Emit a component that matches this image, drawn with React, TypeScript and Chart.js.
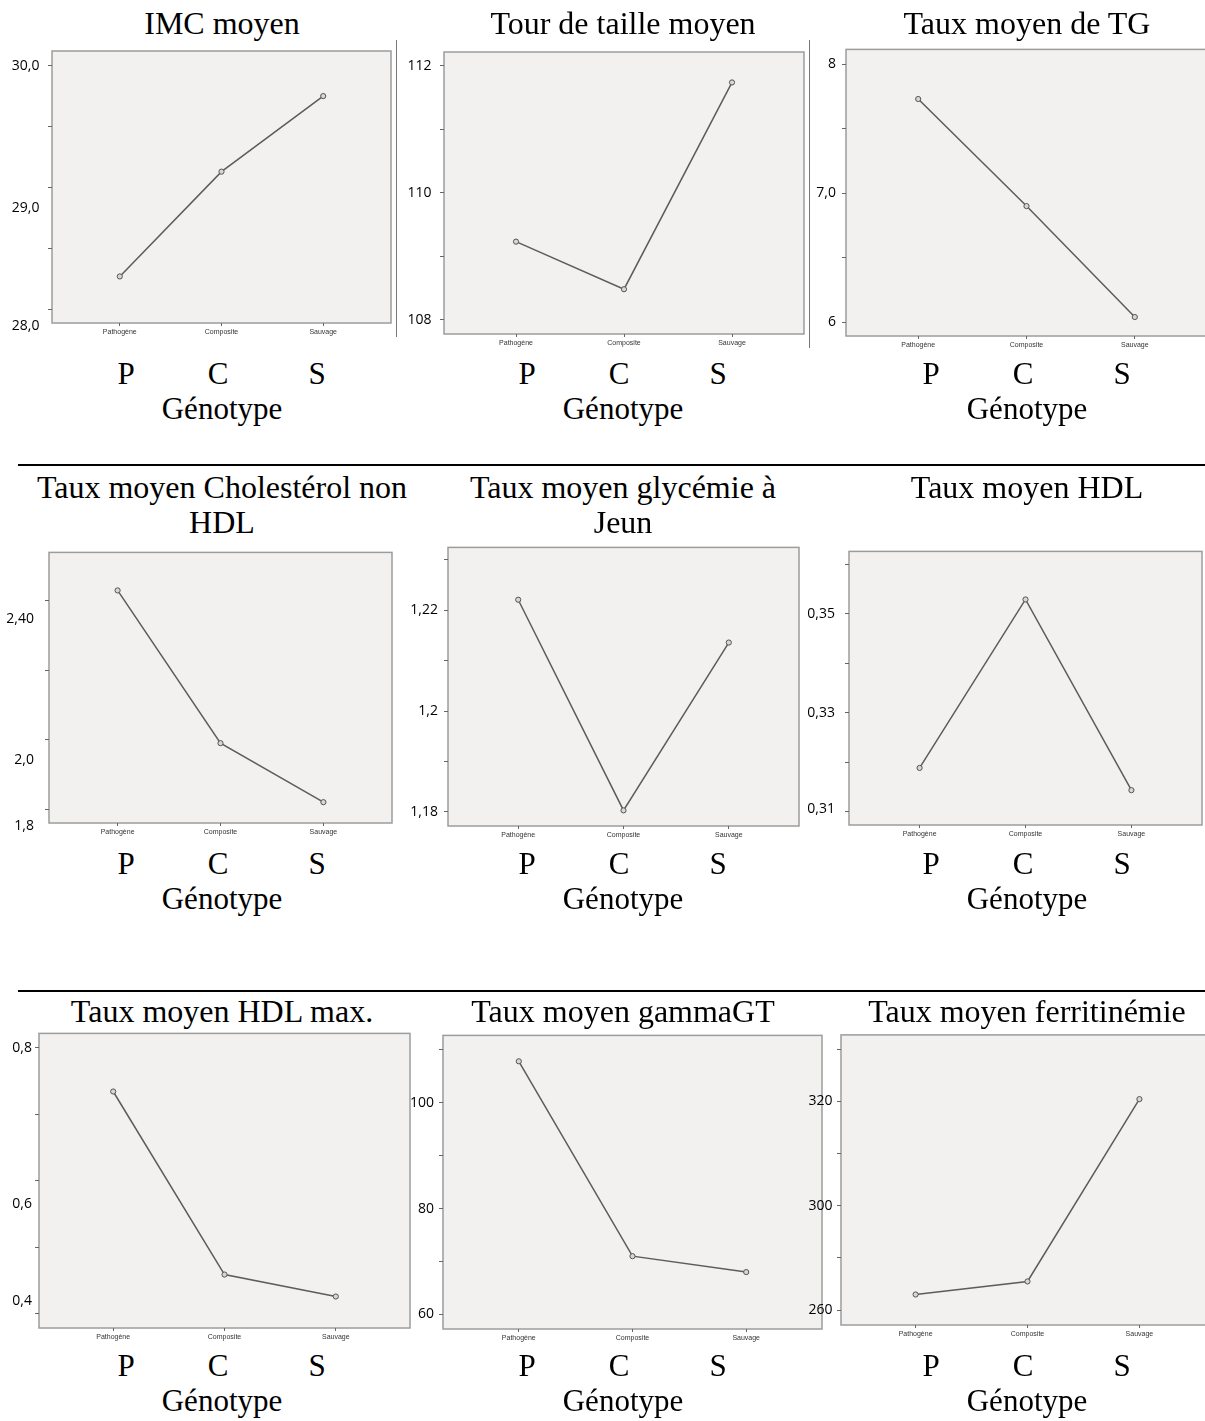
import React, { useEffect, useRef } from "react";
import { Chart, registerables } from "chart.js";

Chart.register(...registerables);

// ---------- data ----------
const categories = ["Pathogène", "Composite", "Sauvage"];
const categoryLetters = ["P", "C", "S"];
const axisTitle = "Génotype";

const titles: string[][] = [
  ["IMC moyen"],
  ["Tour de taille moyen"],
  ["Taux moyen de TG"],
  ["Taux moyen Cholestérol non", "HDL"],
  ["Taux moyen glycémie à", "Jeun"],
  ["Taux moyen HDL"],
  ["Taux moyen HDL max."],
  ["Taux moyen gammaGT"],
  ["Taux moyen ferritinémie"],
];

// means per genotype (P, C, S)
const imcValues = [28.27, 29.13, 29.75];
const tourTailleValues = [109.23, 108.48, 111.74];
const tgValues = [7.73, 6.9, 6.04];
const cholNonHdlValues = [2.43, 1.99, 1.82];
const glycemieValues = [1.2221, 1.1803, 1.2136];
const hdlValues = [0.3188, 0.3529, 0.3143];
const hdlMaxValues = [0.734, 0.459, 0.426];
const gammaGtValues = [107.8, 71.0, 68.0];
const ferritinValues = [283.0, 285.5, 320.4];

// tick marks of each y axis
const imcTicks = [28, 28.5, 29, 29.5, 30];
const tourTailleTicks = [108, 109, 110, 111, 112];
const tgTicks = [6, 6.5, 7, 7.5, 8];
const cholNonHdlTicks = [1.8, 2.0, 2.2, 2.4];
const glycemieTicks = [1.18, 1.19, 1.2, 1.21, 1.22, 1.23];
const hdlTicks = [0.31, 0.32, 0.33, 0.34, 0.35, 0.36];
const hdlMaxTicks = [0.4, 0.5, 0.6, 0.7, 0.8];
const gammaGtTicks = [60, 70, 80, 90, 100, 110];
const ferritinTicks = [280, 290, 300, 310, 320, 330];

// tick labels as printed, and the axis value where each one is printed
const imcLabels = ["30,0", "29,0", "28,0"];
const imcLabelAt = [30, 28.83, 27.86];
const tourTailleLabels = ["112", "110", "108"];
const tourTailleLabelAt = [112, 110, 108];
const tgLabels = ["8", "7,0", "6"];
const tgLabelAt = [8, 7.0, 6];
const cholNonHdlLabels = ["2,40", "2,0", "1,8"];
const cholNonHdlLabelAt = [2.347, 1.94, 1.751];
const glycemieLabels = ["1,22", "1,2", "1,18"];
const glycemieLabelAt = [1.22, 1.2, 1.18];
const hdlLabels = ["0,35", "0,33", "0,31"];
const hdlLabelAt = [0.35, 0.33, 0.3105];
const hdlMaxLabels = ["0,8", "0,6", "0,4"];
const hdlMaxLabelAt = [0.8, 0.565, 0.4194];
const gammaGtLabels = ["100", "80", "60"];
const gammaGtLabelAt = [100, 80, 60];
const ferritinLabels = ["320", "300", "260"];
const ferritinLabelAt = [320, 300, 280];

const yRanges: [number, number][] = [
  [27.888, 30.12],
  [107.774, 112.22],
  [5.893, 8.1145],
  [1.76, 2.5395],
  [1.1772, 1.23248],
  [0.30725, 0.36263],
  [0.3787, 0.8213],
  [57.25, 112.69],
  [277.16, 332.7],
];

// ---------- layout ----------
const boxes: [number, number, number, number][] = [
  [52, 44, 391, 323],
  [444, 45, 804, 334],
  [846, 45, 1207, 336],
  [49, 543, 392, 823],
  [448, 543, 799, 826],
  [849, 543, 1202, 825],
  [39, 1032, 410, 1328],
  [443, 1032, 822, 1329],
  [841, 1032, 1214, 1325],
];
const labelGaps = [12.6, 12.6, 10, 15, 10, 14, 7, 9, 8.5];
const colCenters = [222, 623, 1027];
const letterOffsets = [-96, -4, 95];
const titleBaselines = [[34], [498, 533], [1022]];
const letterBaselines = [384, 874, 1376];
const genotypeBaselines = [419, 909, 1411];

const YW = 60;
const PT = 10;
const PR = 6;
const XH = 24;
const TICK_LEN = 4;

const panels = [
  { values: imcValues, ticks: imcTicks, labels: imcLabels, labelAt: imcLabelAt },
  { values: tourTailleValues, ticks: tourTailleTicks, labels: tourTailleLabels, labelAt: tourTailleLabelAt },
  { values: tgValues, ticks: tgTicks, labels: tgLabels, labelAt: tgLabelAt },
  { values: cholNonHdlValues, ticks: cholNonHdlTicks, labels: cholNonHdlLabels, labelAt: cholNonHdlLabelAt },
  { values: glycemieValues, ticks: glycemieTicks, labels: glycemieLabels, labelAt: glycemieLabelAt },
  { values: hdlValues, ticks: hdlTicks, labels: hdlLabels, labelAt: hdlLabelAt },
  { values: hdlMaxValues, ticks: hdlMaxTicks, labels: hdlMaxLabels, labelAt: hdlMaxLabelAt },
  { values: gammaGtValues, ticks: gammaGtTicks, labels: gammaGtLabels, labelAt: gammaGtLabelAt },
  { values: ferritinValues, ticks: ferritinTicks, labels: ferritinLabels, labelAt: ferritinLabelAt },
];

const boxPlugin = {
  id: "spssBox",
  beforeDraw(chart: any) {
    const { ctx, chartArea } = chart;
    const { left, top, right, bottom } = chartArea;
    ctx.save();
    ctx.fillStyle = "#f2f1f0";
    ctx.fillRect(left, top, right - left, bottom - top);
    ctx.strokeStyle = "#9c9c9c";
    ctx.lineWidth = 1.5;
    ctx.strokeRect(left, top, right - left, bottom - top);
    ctx.restore();
  },
};

const SERIF = "'Liberation Serif', 'Times New Roman', serif";

function ChartPanel({ index }: { index: number }) {
  const ref = useRef<HTMLCanvasElement>(null);
  const [l, t, r, b] = boxes[index];
  const p = panels[index];
  const [yMin, yMax] = yRanges[index];
  const width = r - l + YW + PR;
  const height = b - t + PT + XH;

  useEffect(() => {
    const chart = new Chart(ref.current as HTMLCanvasElement, {
      type: "line",
      data: {
        datasets: [
          {
            data: p.values.map((v, i) => ({ x: i, y: v })),
            borderColor: "#5c5c5c",
            borderWidth: 1.5,
            tension: 0,
            pointRadius: 2.6,
            pointBorderWidth: 1,
            pointBorderColor: "#555",
            pointBackgroundColor: "#d6d6d6",
            clip: false,
          } as any,
        ],
      },
      options: {
        responsive: false,
        animation: false,
        events: [],
        layout: { padding: { top: PT, right: PR, left: 0, bottom: 0 }, autoPadding: false } as any,
        plugins: {
          legend: { display: false },
          tooltip: { enabled: false },
          title: { display: false },
        },
        scales: {
          x: {
            type: "linear",
            min: -2 / 3,
            max: 8 / 3,
            afterBuildTicks: (s: any) => {
              s.ticks = categories.map((_, i) => ({ value: i }));
            },
            afterFit: (s: any) => {
              s.height = XH;
            },
            ticks: {
              autoSkip: false,
              maxRotation: 0,
              padding: 2,
              color: "#333",
              font: { family: "'Liberation Sans', Arial, sans-serif", size: 7 },
              callback: (v: any) => categories[Math.round(Number(v))] ?? "",
            },
            grid: { drawOnChartArea: false, drawTicks: true, tickLength: 3, color: "#666" },
            border: { display: false },
          },
          y: {
            type: "linear",
            min: yMin,
            max: yMax,
            afterBuildTicks: (s: any) => {
              const marks = p.ticks.map((v) => ({ value: v, kind: "mark", text: "" }));
              const labs = p.labelAt.map((v, i) => ({ value: v, kind: "label", text: p.labels[i] }));
              s.ticks = [...marks, ...labs];
            },
            afterFit: (s: any) => {
              s.width = YW;
            },
            ticks: {
              autoSkip: false,
              padding: labelGaps[index] - TICK_LEN,
              color: "#000",
              font: { family: "'Open Sans', sans-serif", size: 14 },
              callback: (_v: any, i: number, ticks: any[]) => (ticks[i] && ticks[i].text) || "",
            },
            grid: {
              drawOnChartArea: false,
              drawTicks: true,
              tickLength: TICK_LEN,
              tickWidth: 1,
              tickColor: (ctx: any) => (ctx.tick && ctx.tick.kind === "mark" ? "#666" : "rgba(0,0,0,0)"),
            },
            border: { display: false },
          },
        },
      } as any,
      plugins: [boxPlugin],
    });
    return () => chart.destroy();
  }, []);

  return (
    <canvas
      ref={ref}
      width={width}
      height={height}
      style={{ position: "absolute", left: l - YW, top: t - PT, width, height, display: "block" }}
    />
  );
}

function TextLine({ text, cx, baseline, size }: { text: string; cx: number; baseline: number; size: number }) {
  const off = size * 0.8375;
  return (
    <div
      style={{
        position: "absolute",
        left: cx - 300,
        width: 600,
        top: baseline - off,
        textAlign: "center",
        fontFamily: SERIF,
        fontSize: size,
        lineHeight: `${size}px`,
        color: "#000",
        whiteSpace: "nowrap",
      }}
    >
      {text}
    </div>
  );
}

export default function App() {
  const items: React.ReactNode[] = [];
  for (let i = 0; i < 9; i++) {
    const row = Math.floor(i / 3);
    const col = i % 3;
    const cx = colCenters[col];
    titles[i].forEach((line, k) => {
      items.push(<TextLine key={`t${i}-${k}`} text={line} cx={cx} baseline={titleBaselines[row][k]} size={32} />);
    });
    categoryLetters.forEach((letter, k) => {
      items.push(
        <TextLine key={`l${i}-${k}`} text={letter} cx={cx + letterOffsets[k]} baseline={letterBaselines[row]} size={31} />
      );
    });
    items.push(<TextLine key={`g${i}`} text={axisTitle} cx={cx} baseline={genotypeBaselines[row]} size={31} />);
    items.push(<ChartPanel key={`c${i}`} index={i} />);
  }

  return (
    <div
      style={{
        position: "absolute",
        left: 0,
        top: 0,
        width: 1205,
        height: 1421,
        overflow: "hidden",
        background: "#fff",
      }}
    >
      {/* separators */}
      <div style={{ position: "absolute", left: 18, top: 464, width: 1187, height: 1.5, background: "#000" }} />
      <div style={{ position: "absolute", left: 18, top: 990, width: 1187, height: 1.5, background: "#000" }} />
      <div style={{ position: "absolute", left: 396, top: 40, width: 1.2, height: 297, background: "#777" }} />
      <div style={{ position: "absolute", left: 809, top: 40, width: 1.2, height: 308, background: "#777" }} />
      {items}
    </div>
  );
}
